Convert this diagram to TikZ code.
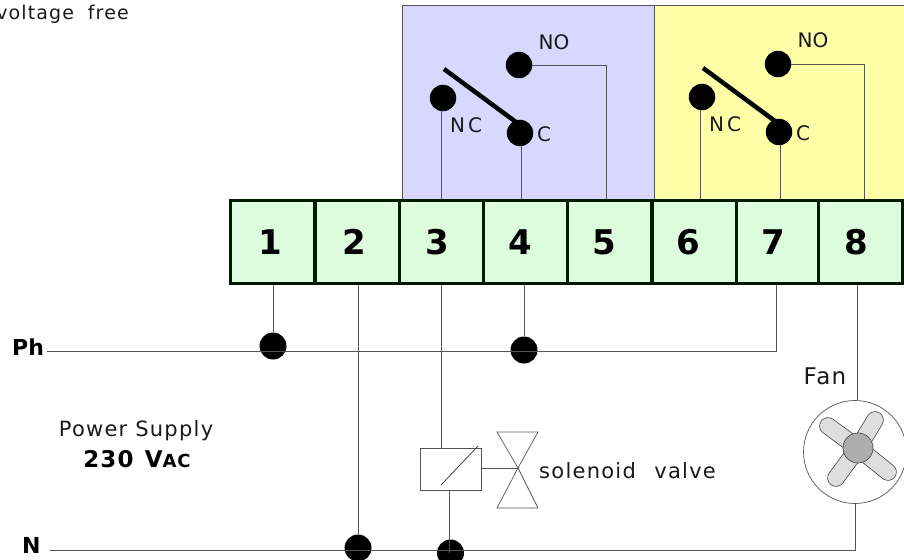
\documentclass[tikz,border=0pt]{standalone}
\usepackage{fontspec}
\setmainfont{DejaVu Sans}
\newfontfamily\spaced[LetterSpace=6]{DejaVu Sans}
\newfontfamily\spacedb[LetterSpace=5,BoldFont={DejaVu Sans Bold}]{DejaVu Sans}
\definecolor{relayblue}{HTML}{D8D8FF}
\definecolor{relayyellow}{HTML}{FFFFA8}
\definecolor{termgreen}{HTML}{DDFBDD}
\definecolor{wirecol}{HTML}{555555}
\tikzset{
 wire/.style={draw=wirecol,line width=0.8pt},
 dotnode/.style={circle,fill=black,draw=none,minimum size=27pt,inner sep=0pt},
 smalldot/.style={circle,fill=black,draw=none,minimum size=26.5pt,inner sep=0pt},
 terminal/.style={rectangle,draw=black!90!green,fill=termgreen,line width=3pt,minimum width=84pt,minimum height=83pt,inner sep=0pt,font=\fontsize{34}{34}\selectfont\bfseries},
 lab/.style={inner sep=0pt,font=\spaced\fontsize{21}{24}\selectfont,text=black!90},
 swlab/.style={inner sep=0pt,font=\fontsize{20}{22}\selectfont,text=black!90},
 blab/.style={inner sep=0pt,font=\fontsize{22}{24}\selectfont\bfseries},
 blade/.style={draw=black,line width=4.5pt},
 relaybox/.style={rectangle,draw=wirecol,line width=0.7pt,anchor=north west,inner sep=0pt},
 fanblade/.style={double=black!13,double distance=16pt,draw=black!80,line width=.7pt,line cap=round},
}
\begin{document}
\begin{tikzpicture}[x=1pt,y=-1pt]
\useasboundingbox (0,0) rectangle (904,559);
% relay backgrounds
\node[relaybox,fill=relayblue,minimum width=252.5pt,minimum height=193pt] (bluebox) at (401.5,5.5) {};
\node[relaybox,fill=relayyellow,minimum width=252pt,minimum height=193pt] (yellowbox) at (654,5.5) {};
% contacts
\node[smalldot] (nca) at (443,98) {};
\node[smalldot] (noa) at (519,65) {};
\node[smalldot] (ca) at (520,133) {};
\node[smalldot] (ncb) at (702,97) {};
\node[smalldot] (nob) at (778,64) {};
\node[smalldot] (cb) at (779,132) {};
\coordinate (bladea) at (444,69);
\coordinate (bladeb) at (703,68);
\draw[blade] (bladea) -- (520,125);
\draw[blade] (bladeb) -- (779,124);
% terminals
\node[terminal] (t1) at (272.5,242) {1\kern5pt};
\node[terminal] (t2) at (357.5,242) {2\kern7pt};
\node[terminal] (t3) at (441.5,242) {3\kern9pt};
\node[terminal] (t4) at (525.5,242) {4\kern11pt};
\node[terminal] (t5) at (609.5,242) {5\kern11pt};
\node[terminal] (t6) at (694,242) {6\kern12pt};
\node[terminal,minimum width=82pt] (t7) at (777.5,242) {7\kern9pt};
\node[terminal,minimum width=84pt] (t8) at (860,242) {8\kern8pt};
% relay wires
\coordinate (ta3) at (441,199);
\coordinate (ta4) at (521,199);
\coordinate (ta5) at (606,199);
\coordinate (tb6) at (700.5,199);
\coordinate (tb7) at (780.5,199);
\coordinate (tb8) at (864,199);
\draw[wire] (ta3 |- nca.south) -- (ta3);
\draw[wire] (ta4 |- ca.south) -- (ta4);
\draw[wire] (noa) -| (ta5);
\draw[wire] (tb6 |- ncb.south) -- (tb6);
\draw[wire] (tb7 |- cb.south) -- (tb7);
\draw[wire] (nob) -| (tb8);
% relay labels
\node[swlab] (lnoa) at (554,42) {NO};
\node[swlab] (lnca) at (466,125) {N\hspace{3pt}C};
\node[swlab] (lca) at (544,134) {C};
\node[swlab] (lnob) at (813,40) {NO};
\node[swlab] (lncb) at (725,124) {N\hspace{3pt}C};
\node[swlab] (lcb) at (803,133) {C};
% supply
\node[blab,anchor=west] (ph) at (12,347) {Ph};
\node[blab,anchor=west] (n) at (22,545) {N};
\node[dotnode] (d1) at (273,346) {};
\node[dotnode] (d4) at (524,350) {};
\node[dotnode] (d2) at (358,548) {};
\node[dotnode] (d3) at (450.5,553) {};
\coordinate (phs) at (47,351);
\coordinate (ns) at (50,550);
\draw[wire] (phs) -| (776.5,285);
\draw[wire] (t1.south -| d1) -- (d1);
\draw[wire] (t2.south -| d2) -- (d2);
\draw[wire] (t4.south -| d4) -- (d4);
% coil and valve
\node[rectangle,draw=wirecol,line width=0.8pt,minimum width=61.5pt,minimum height=42pt,inner sep=0pt] (coil) at (451,469.5) {};
\draw[wire] (t3.south) -- (441.5,448);
\draw[wire] (coil.south -| 449.5,0) -- (449.5,553);
\draw[draw=black!80,line width=0.7pt] (441,485) -- (478,446);
\coordinate (vc) at (518,468);
\draw[wire] (coil.east |- vc) -- (vc);
\draw[draw=wirecol,line width=0.7pt] (vc) -- (497,432) -- (538,432) -- cycle;
\draw[draw=wirecol,line width=0.7pt] (vc) -- (497,508) -- (538,508) -- cycle;
\node[lab,anchor=west] (solv) at (539,471) {solenoid\hspace{.5em} valve\kern2pt};
% power labels
\node[lab] (pwr) at (136,431) {Power Supply};
\node[inner sep=0pt,font=\spacedb\fontsize{23}{26}\selectfont\bfseries] (pv) at (137,459) {230 \hspace{2pt}V{\fontsize{18}{20}\selectfont AC}};
\node[lab,font=\spaced\fontsize{19}{24}\selectfont,anchor=east] (volt) at (129,14) {voltage\hspace{.35em} free};
% fan
\node[circle,draw=wirecol,line width=0.7pt,minimum size=103pt,inner sep=0pt] (fan) at (855,452) {};
\draw[wire] (t8.south -| 857,0) -- (857,400);
\draw[fanblade] (858,448) -- (828,426);
\draw[fanblade] (858,448) -- (875,420);
\draw[fanblade] (858,448) -- (888,472);
\draw[fanblade] (858,448) -- (836,478);
\node[circle,draw=black!70,fill=black!32,line width=.7pt,minimum size=30pt,inner sep=0pt] (hub) at (858,448) {};
\node[lab,font=\spaced\fontsize{23}{26}\selectfont] (flab) at (825,376) {Fan};
\draw[wire] (fan.south) |- (ns);
\end{tikzpicture}
\end{document}
